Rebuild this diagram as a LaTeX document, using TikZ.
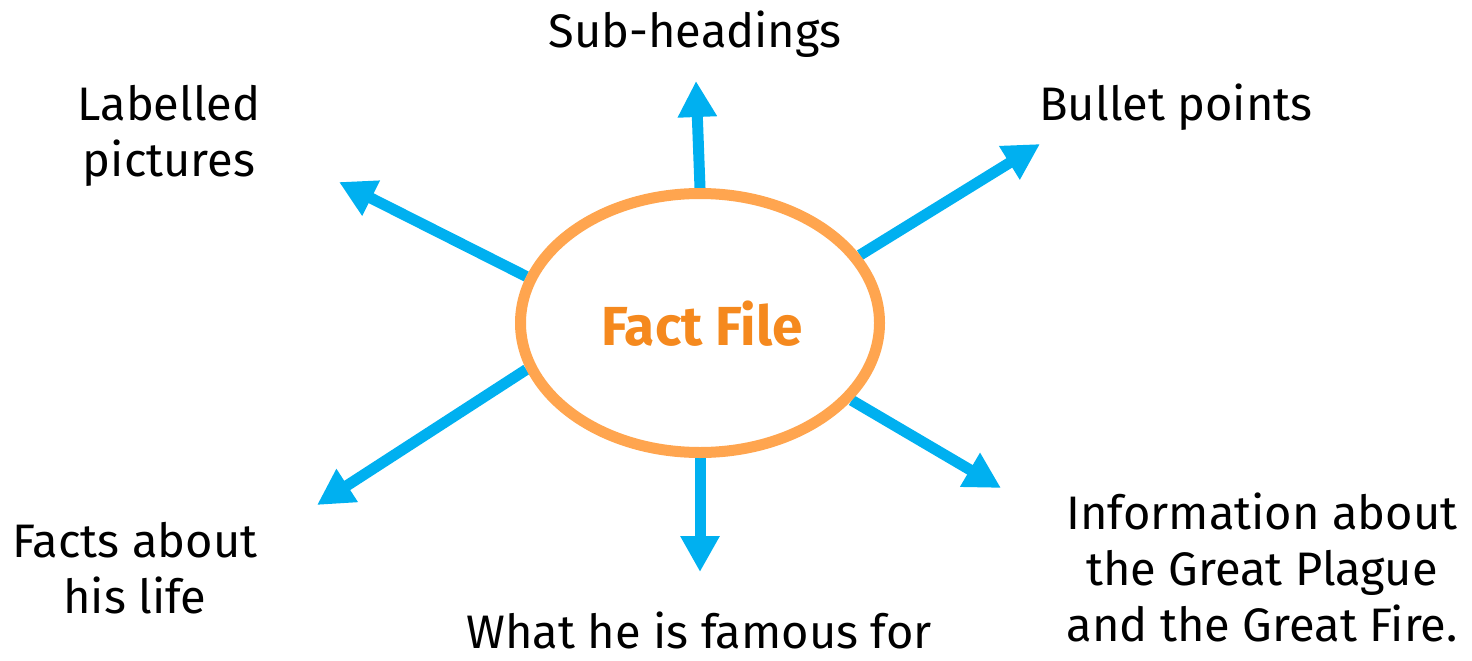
\documentclass[tikz,border=0pt]{standalone}
\usepackage{fontspec}
\setmainfont{Fira Sans}
\usetikzlibrary{arrows.meta,shapes.geometric,backgrounds}
\definecolor{arrowblue}{RGB}{0,176,240}
\definecolor{ringorange}{RGB}{255,165,79}
\definecolor{titleorange}{RGB}{245,137,30}
\begin{document}
\begin{tikzpicture}[x=1pt,y=-1pt,
  lbl/.style={font=\fontsize{47}{56}\selectfont, align=center, inner sep=0pt, text=black},
  spoke/.style={draw=arrowblue, line width=11pt, -{Triangle[length=36pt,width=37pt]}},
  hub/.style={ellipse, draw=ringorange, line width=11pt, fill=white,
    minimum width=359pt, minimum height=259pt, inner sep=0pt},
  hubtext/.style={font=\fontsize{55}{64}\selectfont\bfseries, text=titleorange, inner sep=0pt}]
\useasboundingbox (0,0) rectangle (1472,661);
\node[hub] (hub) at (700,323) {};
\node[hubtext, anchor=base] (title) at (702,345) {Fact File};
% labels
\node[lbl, anchor=base] (sub) at (695,48) {Sub-headings};
\node[lbl, anchor=base] (bul) at (1176,120) {Bullet points};
\node[lbl, anchor=base] (fam) at (699,648) {What he is famous for};
\node[lbl] (pic) at (169,136) {Labelled\\pictures};
\node[lbl] (life) at (135,568) {Facts about\\his life};
\node[lbl] (info) at (1262,567) {Information about\\the Great Plague\\and the Great Fire.};
% arrow tips
\coordinate (tUp) at (696,81);
\coordinate (tUL) at (339,182);
\coordinate (tUR) at (1040,144);
\coordinate (tLL) at (317,505);
\coordinate (tDn) at (700,572);
\coordinate (tLR) at (1001,488);
\begin{scope}[on background layer]
\draw[spoke] (hub.90.4) -- (tUp);
\draw[spoke] (hub.165.1) -- (tUL);
\draw[spoke] (hub.23.6) -- (tUR);
\draw[spoke] (hub.195.9) -- (tLL);
\draw[spoke] (hub.270) -- (tDn);
\draw[spoke] (hub.333.9) -- (tLR);
\end{scope}
\end{tikzpicture}
\end{document}
